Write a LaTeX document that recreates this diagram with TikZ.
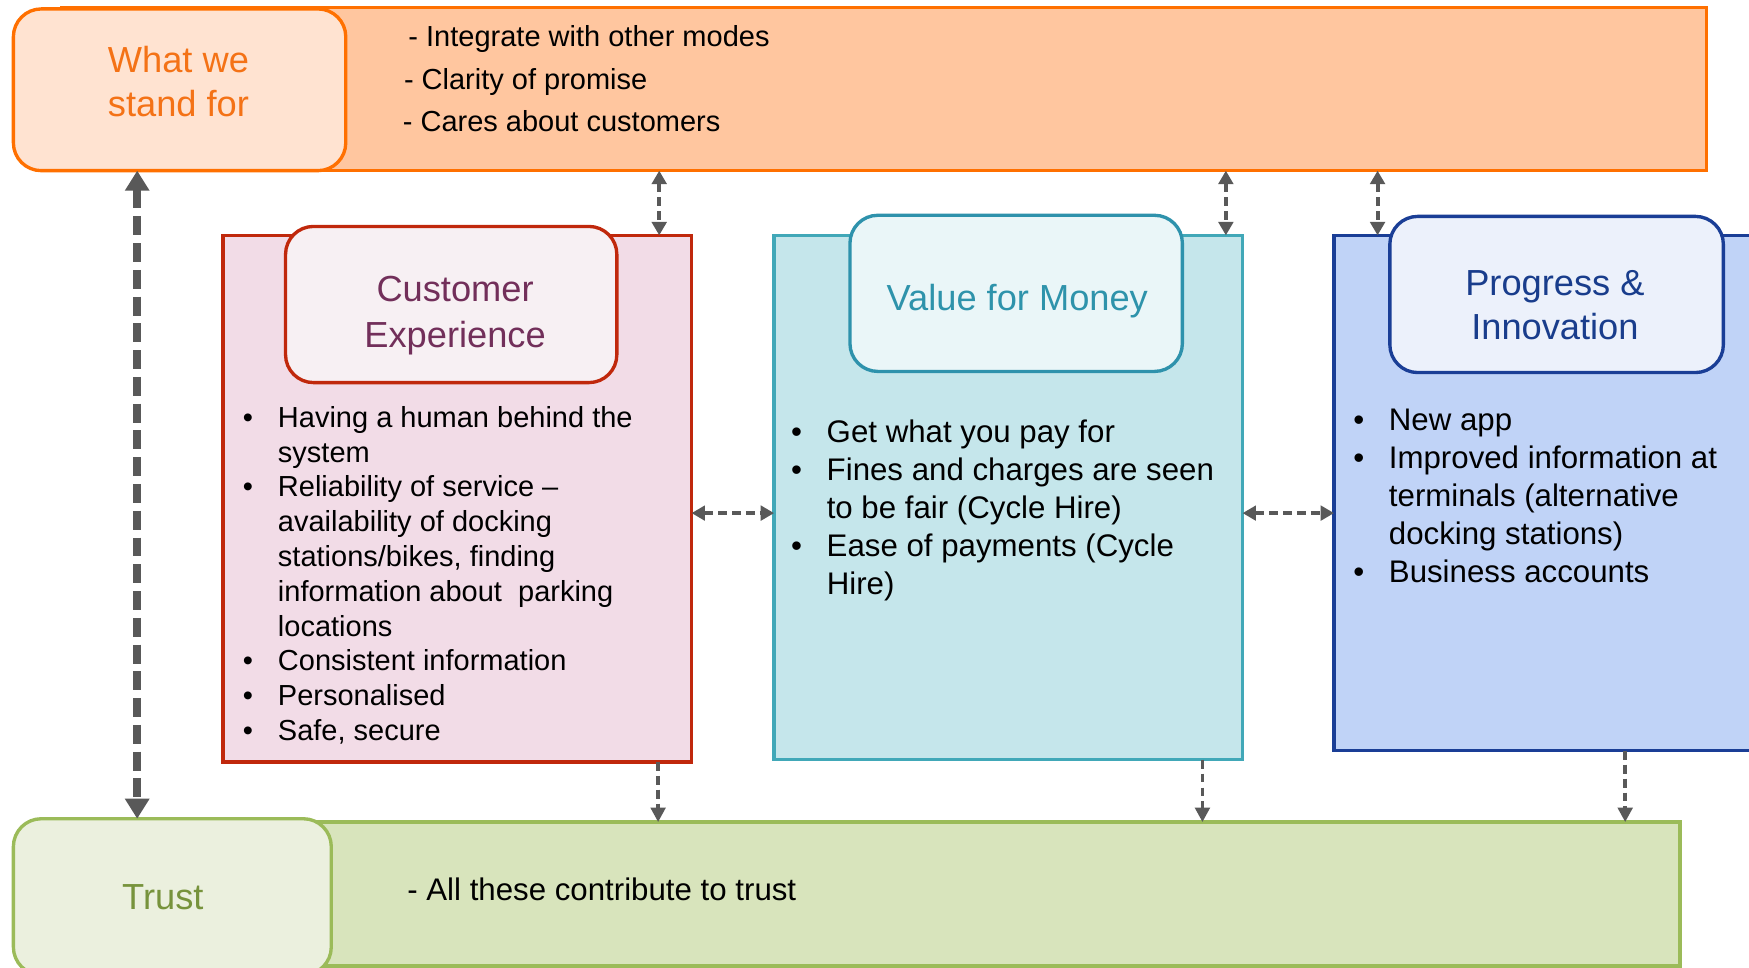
\documentclass[tikz,border=0pt]{standalone}
\usepackage{fontspec}
\setmainfont{Liberation Sans}
\usetikzlibrary{arrows.meta}
\definecolor{orgline}{HTML}{FF7000}
\definecolor{orgfill}{HTML}{FFC69F}
\definecolor{orghead}{HTML}{FFE3D1}
\definecolor{orgtext}{HTML}{F47216}
\definecolor{celine}{HTML}{C0280C}
\definecolor{cefill}{HTML}{F2DCE7}
\definecolor{cehead}{HTML}{F7F0F3}
\definecolor{cetext}{HTML}{722F5A}
\definecolor{vfline}{HTML}{41A8B8}
\definecolor{vfhline}{HTML}{2E92AC}
\definecolor{vffill}{HTML}{C5E6EB}
\definecolor{vfhead}{HTML}{EAF6F8}
\definecolor{vftext}{HTML}{2E93AB}
\definecolor{piline}{HTML}{1A3E96}
\definecolor{pifill}{HTML}{C0D3F7}
\definecolor{pihead}{HTML}{ECF1FB}
\definecolor{pitext}{HTML}{193D8C}
\definecolor{trline}{HTML}{9BBB59}
\definecolor{trfill}{HTML}{D8E4BC}
\definecolor{trhead}{HTML}{EBF0DE}
\definecolor{trtext}{HTML}{77933C}
\definecolor{arrgray}{HTML}{595959}
\begin{document}
\begin{tikzpicture}[x=1pt,y=-1pt,
  panel/.style={draw, line width=3pt, inner sep=0pt, outer sep=0pt, anchor=north west},
  header/.style={panel, rounded corners=25pt},
  headtext/.style={font=\fontsize{32.5}{41}\selectfont, align=center, inner sep=0pt},
  toptext/.style={font=\fontsize{26}{31}\selectfont, anchor=base west, inner sep=0pt},
  cetxt/.style={font=\fontsize{26}{31.2}\selectfont, anchor=base west, inner sep=0pt},
  bigtxt/.style={font=\fontsize{28}{34}\selectfont, anchor=base west, inner sep=0pt},
  dconn/.style={draw=arrgray, line width=3.5pt, dash pattern=on 8pt off 4.5pt,
    {Triangle[length=12pt,width=13pt]}-{Triangle[length=12pt,width=13pt]}},
  sconn/.style={draw=arrgray, line width=3.5pt, dash pattern=on 8pt off 4.5pt,
    -{Triangle[length=13pt,width=13pt]}},
  thickconn/.style={draw=arrgray, line width=7pt, dash pattern=on 17pt off 7pt,
    {Triangle[length=18pt,width=21pt]}-{Triangle[length=18pt,width=21pt]}}]
\clip (0,0) rectangle (1568,867);
\fill[white] (0,0) rectangle (1568,867);

% top band
\node[panel, draw=orgline, fill=orgfill, minimum width=1475pt, minimum height=146pt] (top) at (55,7) {};
\node[header, draw=orgline, fill=orghead, minimum width=298pt, minimum height=145pt] (wwsf) at (12,8) {};
\node[headtext, text=orgtext, font=\fontsize{32.5}{40}\selectfont] (wwsft) at (160,73) {What we\\stand for};
\node[toptext] (t1) at (366,42) {- Integrate with other modes};
\node[toptext] (t2) at (362,80) {- Clarity of promise};
\node[toptext] (t3) at (361,118) {- Cares about customers};

% customer experience
\node[panel, draw=celine, fill=cefill, minimum width=420pt, minimum height=472pt] (ce) at (200,211) {};
\node[header, draw=celine, fill=cehead, minimum width=297pt, minimum height=140pt] (ceh) at (256,203) {};
\node[headtext, text=cetext] (ceht) at (408,283) {Customer\\Experience};
\node[cetxt] (cel) at (217.5,383) {\begin{tabular}[t]{@{}p{31.5pt}@{}l@{}}
\textbullet & Having a human behind the\\
 & system\\
\textbullet & Reliability of service –\\
 & availability of docking\\
 & stations/bikes, finding\\
 & information about\ \ parking\\
 & locations\\
\textbullet & Consistent information\\
\textbullet & Personalised\\
\textbullet & Safe, secure
\end{tabular}};

% value for money
\node[panel, draw=vfline, fill=vffill, minimum width=420pt, minimum height=470pt] (vf) at (694,211) {};
\node[header, draw=vfhline, fill=vfhead, minimum width=298pt, minimum height=140pt] (vfh) at (762,193) {};
\node[headtext, text=vftext] (vfht) at (912,270) {Value for Money};
\node[bigtxt] (vfl) at (709,397) {\begin{tabular}[t]{@{}p{32pt}@{}l@{}}
\textbullet & Get what you pay for\\
\textbullet & Fines and charges are seen\\
 & to be fair (Cycle Hire)\\
\textbullet & Ease of payments (Cycle\\
 & Hire)
\end{tabular}};

% progress & innovation
\node[panel, draw=piline, fill=pifill, minimum width=394pt, minimum height=462pt] (pi) at (1196,211) {};
\node[header, draw=piline, fill=pihead, minimum width=299pt, minimum height=140pt] (pih) at (1246,194) {};
\node[headtext, text=pitext, font=\fontsize{32.5}{40}\selectfont] (piht) at (1394,273.5) {Progress \&\\Innovation};
\node[bigtxt] (pil) at (1213,386) {\begin{tabular}[t]{@{}p{32pt}@{}l@{}}
\textbullet & New app\\
\textbullet & Improved information at\\
 & terminals (alternative\\
 & docking stations)\\
\textbullet & Business accounts
\end{tabular}};

% trust
\node[panel, draw=trline, fill=trfill, minimum width=1451pt, minimum height=129pt] (tr) at (55,737) {};
\node[header, draw=trline, fill=trhead, minimum width=285pt, minimum height=140pt] (trh) at (12,734) {};
\node[headtext, text=trtext] (trht) at (146,804) {Trust};
\node[bigtxt] (trt) at (365,807) {- All these contribute to trust};

% connectors
\coordinate (xa) at (123,0);
\coordinate (xb) at (591,0);
\coordinate (xc) at (1099,0);
\coordinate (xd) at (1235,0);
\coordinate (xe) at (590,0);
\coordinate (xf) at (1078,0);
\coordinate (xg) at (1457,0);
\coordinate (ym) at (0,460);

\draw[thickconn] (wwsf.south -| xa) -- (trh.north -| xa);
\draw[dconn] (top.south -| xb) -- (ce.north -| xb);
\draw[dconn] (top.south -| xc) -- (vf.north -| xc);
\draw[dconn] (top.south -| xd) -- (pi.north -| xd);
\draw[dconn] (ce.east |- ym) -- (vf.west |- ym);
\draw[dconn] (vf.east |- ym) -- (pi.west |- ym);
\draw[sconn] (ce.south -| xe) -- (tr.north -| xe);
\draw[sconn] (vf.south -| xf) -- (tr.north -| xf);
\draw[sconn] (pi.south -| xg) -- (tr.north -| xg);
\end{tikzpicture}
\end{document}
